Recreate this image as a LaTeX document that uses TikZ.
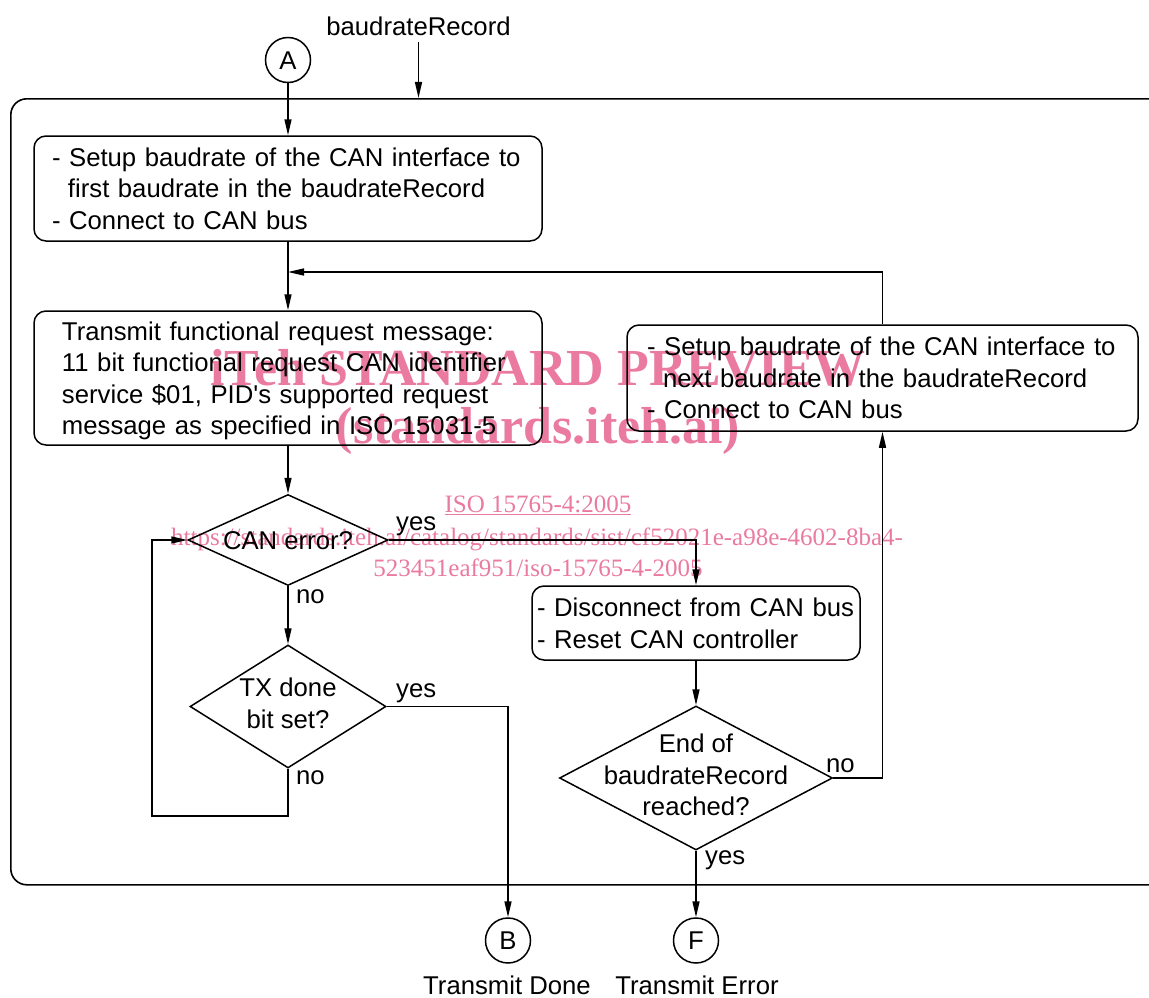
\documentclass[tikz,border=0pt]{standalone}
\usepackage{fontspec}
\setmainfont{Liberation Sans}[Ligatures=TeXOff]
\newfontfamily\wmfont{Liberation Serif}
\usetikzlibrary{arrows.meta,shapes.geometric}
\definecolor{wm}{RGB}{234,122,160}
\newcommand\ms{\rule[-6.5pt]{0pt}{31.5pt}}
\begin{document}
\begin{tikzpicture}[x=1pt,y=-1pt,
  every node/.style={font=\fontsize{25.7}{31.5}\selectfont, inner sep=0pt,
    execute at begin node=\ms, execute at end node=\ms},
  ln/.style={line width=1.5pt},
  arr/.style={ln, -{Triangle[length=16pt,width=7pt]}},
  box/.style={draw, line width=1.5pt, rounded corners=12pt, align=left, text width=#1},
  dia/.style={draw, diamond, line width=1.5pt},
  conn/.style={draw, circle, line width=1.5pt, minimum size=45pt},
  lbl/.style={anchor=base west},
  plain/.style={execute at begin node={}, execute at end node={}},
  wmk/.style={text=wm, font=\wmfont\bfseries\fontsize{52}{52}\selectfont, anchor=base},
  wmks/.style={text=wm, font=\wmfont\fontsize{25}{25}\selectfont, anchor=base}
]
\useasboundingbox (0,0) rectangle (1149,998);
\clip (0,0) rectangle (1149,998);

% watermark
\node[wmk] (w1) at (538,385) {iTeh STANDARD PREVIEW};
\node[wmk] (w2) at (538,443) {(standards.iteh.ai)};
\node[wmks] (w3) at (538,512) {\underline{ISO 15765-4:2005}};
\node[wmks] (w4) at (537,545) {https://standards.iteh.ai/catalog/standards/sist/cf52021e-a98e-4602-8ba4-};
\node[wmks] (w5) at (538,576) {523451eaf951/iso-15765-4-2005};

% outer frame
\node[draw, line width=1.6pt, rounded corners=16pt, minimum width=1165pt,
  minimum height=786pt, anchor=north west] (outer) at (10,98) {};

\node (br) at (418.5,26) {baudrateRecord};
\node[conn] (A) at (288,60) {A};

\node[box=508pt, minimum height=105pt] (b1) at (288,188.5)
 {\hspace*{18pt}- Setup baudrate of the CAN interface to\\
  \hspace*{34pt}first baudrate in the baudrateRecord\\
  \hspace*{18pt}- Connect to CAN bus};

\node[box=508pt, minimum height=134pt] (b2) at (288,378)
 {\hspace*{28pt}Transmit functional request message:\\
  \hspace*{28pt}11 bit functional request CAN identifier\\
  \hspace*{28pt}service \$01, PID's supported request\\
  \hspace*{28pt}message as specified in ISO 15031-5};

\node[box=511pt, minimum height=106pt] (b4) at (882.5,378)
 {\hspace*{20pt}- Setup baudrate of the CAN interface to\\
  \hspace*{36pt}next baudrate in the baudrateRecord\\
  \hspace*{20pt}- Connect to CAN bus};

\node[dia, minimum width=200pt, minimum height=91pt,
  label={center:CAN error?}] (d1) at (288,540) {};
\node[dia, minimum width=196pt, minimum height=123pt,
  label={[align=center]center:{TX done\\bit set?}}] (d2) at (288,706.5) {};

\node[box=328pt, minimum height=74pt] (b3) at (696,623)
 {\hspace*{5pt}- Disconnect from CAN bus\\
  \hspace*{5pt}- Reset CAN controller};

\node[dia, minimum width=273pt, minimum height=144pt,
  label={[align=center]center:{End of\\baudrateRecord\\reached?}}] (d3) at (696,778) {};

\node[conn] (B) at (508,940.5) {B};
\node[conn] (F) at (696,940.5) {F};
\node[plain, anchor=base] (tB) at (507,994) {Transmit Done};
\node[plain, anchor=base] (tF) at (697,994) {Transmit Error};

% labels
\node[lbl] (y1) at (396,530) {yes};
\node[lbl] (n1) at (296,603) {no};
\node[lbl] (y2) at (396,697) {yes};
\node[lbl] (n2) at (296,784) {no};
\node[lbl] (n3) at (826,772) {no};
\node[lbl] (y3) at (705,864) {yes};

% connectors
\coordinate (j1) at (288,272);
\coordinate (c1) at (152,816);
\draw[arr] (br.south) -- (br.south |- outer.north);
\draw[arr] (A) -- (b1);
\draw[arr] (b1) -- (b2);
\draw[arr] (b4.north) |- (j1);
\draw[arr] (b2) -- (d1);
\draw[arr] (d1.east) -| (b3.north);
\draw[arr] (d1) -- (d2);
\draw[arr] (d2.east) -| (B.north);
\draw[arr] (d2.south) |- (c1) |- (d1.west);
\draw[arr] (b3) -- (d3);
\draw[arr] (d3.east) -| (b4.south);
\draw[arr] (d3) -- (F);
\end{tikzpicture}
\end{document}
